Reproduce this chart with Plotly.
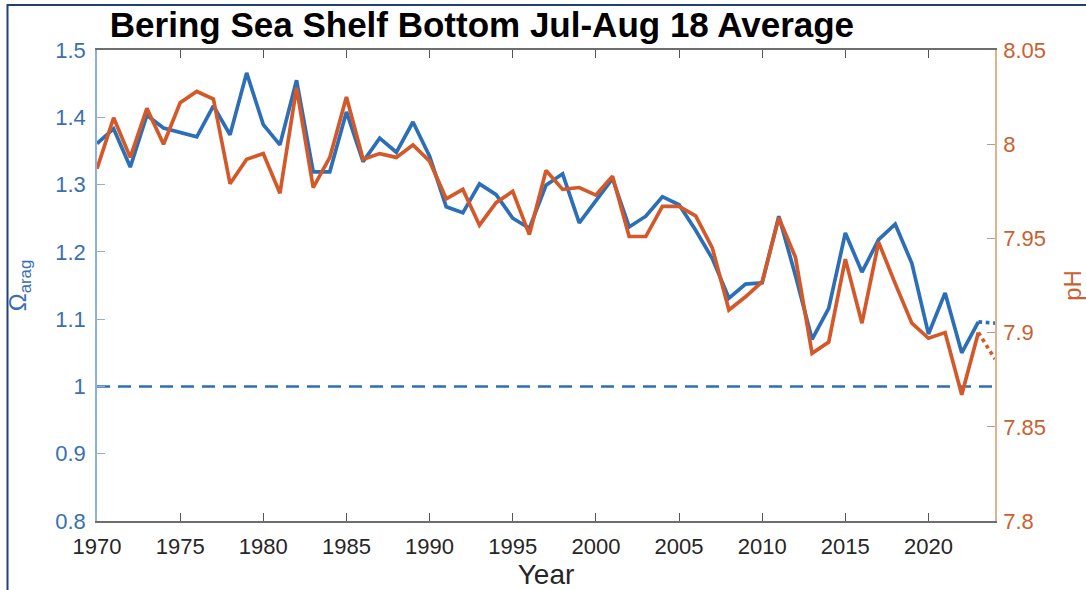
import plotly.graph_objects as go

years = list(range(1970, 2024))
omega = [1.361, 1.383, 1.326, 1.403, 1.384, 1.377, 1.371, 1.417, 1.374, 1.466,
         1.389, 1.359, 1.455, 1.319, 1.319, 1.408, 1.334, 1.369, 1.348, 1.393,
         1.342, 1.267, 1.258, 1.301, 1.285, 1.250, 1.235, 1.299, 1.316, 1.243,
         1.277, 1.309, 1.237, 1.253, 1.282, 1.270, 1.232, 1.190, 1.131, 1.152,
         1.154, 1.253, 1.165, 1.070, 1.116, 1.228, 1.170, 1.218, 1.241, 1.183,
         1.078, 1.139, 1.050, 1.096]
ph = [7.987, 8.014, 7.993, 8.019, 8.000, 8.022, 8.028, 8.024, 7.979, 7.992,
      7.995, 7.974, 8.030, 7.977, 7.993, 8.025, 7.992, 7.995, 7.993, 7.9996,
      7.991, 7.971, 7.976, 7.957, 7.969, 7.975, 7.952, 7.986, 7.976, 7.977,
      7.973, 7.983, 7.951, 7.951, 7.967, 7.967, 7.962, 7.945, 7.912, 7.919,
      7.927, 7.961, 7.940, 7.889, 7.895, 7.939, 7.905, 7.948, 7.926, 7.905,
      7.897, 7.900, 7.867, 7.900]
proj_years = [2023, 2024]
omega_proj = [1.096, 1.094]
ph_proj = [7.900, 7.886]
threshold_years = [1970, 2024]
threshold = [1.0, 1.0]

left_ticks = [0.8, 0.9, 1.0, 1.1, 1.2, 1.3, 1.4, 1.5]
left_labels = ["0.8", "0.9", "1", "1.1", "1.2", "1.3", "1.4", "1.5"]
right_ticks = [7.8, 7.85, 7.9, 7.95, 8.0, 8.05]
right_labels = ["7.8", "7.85", "7.9", "7.95", "8", "8.05"]
x_ticks = list(range(1970, 2021, 5))

BLUE = "#2c6fb6"
ORANGE = "#d3592a"
BLUE_TXT = "#3a6fb3"
ORANGE_TXT = "#c9612f"
FONT = "Liberation Sans, Arial, sans-serif"

fig = go.Figure()
fig.add_trace(go.Scatter(x=threshold_years, y=threshold, mode="lines",
                         line=dict(color=BLUE, width=2.6, dash="13px,8px"),
                         yaxis="y", showlegend=False, hoverinfo="skip"))
fig.add_trace(go.Scatter(x=years, y=omega, mode="lines",
                         line=dict(color=BLUE, width=3.7), yaxis="y", showlegend=False))
fig.add_trace(go.Scatter(x=proj_years, y=omega_proj, mode="lines",
                         line=dict(color=BLUE, width=3.7, dash="dot"), yaxis="y", showlegend=False))
fig.add_trace(go.Scatter(x=years, y=ph, mode="lines",
                         line=dict(color=ORANGE, width=3.7), yaxis="y2", showlegend=False))
fig.add_trace(go.Scatter(x=proj_years, y=ph_proj, mode="lines",
                         line=dict(color=ORANGE, width=3.7, dash="dot"), yaxis="y2", showlegend=False))

fig.update_layout(
    width=1086, height=590,
    margin=dict(l=97, r=91, t=50, b=69, pad=0),
    paper_bgcolor="white", plot_bgcolor="white",
    font=dict(family=FONT, size=22, color="#262626"),
    title=dict(text="<b>Bering Sea Shelf Bottom Jul-Aug 18 Average</b>",
               x=0.4287, xref="paper", xanchor="center",
               y=1 - 25 / 590, yanchor="middle",
               font=dict(family=FONT, size=35, color="black")),
    xaxis=dict(range=[1970, 2024], tickvals=x_ticks, ticktext=[str(v) for v in x_ticks],
               ticks="inside", ticklen=8, tickcolor="#555", tickwidth=1,
               ticklabelstandoff=5, automargin=False,
               showline=True, linecolor="#6e6e6e", linewidth=1.5, mirror="ticks",
               showgrid=False, zeroline=False,
               tickfont=dict(size=22, color="#262626"),
               title=dict(text="Year", font=dict(size=28, color="#262626"), standoff=13)),
    yaxis=dict(range=[0.8, 1.5], tickvals=left_ticks, ticktext=left_labels,
               ticks="inside", ticklen=8, tickcolor="#9ab0c8", tickwidth=1,
               ticklabelstandoff=5, automargin=False,
               showline=True, linecolor="#8eb0d8", linewidth=1.5,
               showgrid=False, zeroline=False,
               tickfont=dict(size=22, color=BLUE_TXT),
               title=dict(text="Ω<sub>arag</sub>", font=dict(size=24, color=BLUE_TXT), standoff=22)),
    yaxis2=dict(range=[7.8, 8.05], tickvals=right_ticks, ticktext=right_labels,
                overlaying="y", side="right",
                ticks="inside", ticklen=8, tickcolor="#b0a090", tickwidth=1,
                ticklabelstandoff=2, automargin=False,
                showline=True, linecolor="#e2b18e", linewidth=1.5,
                showgrid=False, zeroline=False,
                tickfont=dict(size=22, color=ORANGE_TXT),
                title=dict(text="pH", font=dict(size=24, color=ORANGE_TXT), standoff=24)),
    shapes=[dict(type="rect", xref="paper", yref="paper",
                 x0=(7.5 - 97) / 898, x1=1.3, y0=-0.3, y1=(521 - 5) / 471,
                 line=dict(color="#1f4272", width=2), fillcolor="rgba(0,0,0,0)", layer="below")],
)

fig.write_html("out.html")
